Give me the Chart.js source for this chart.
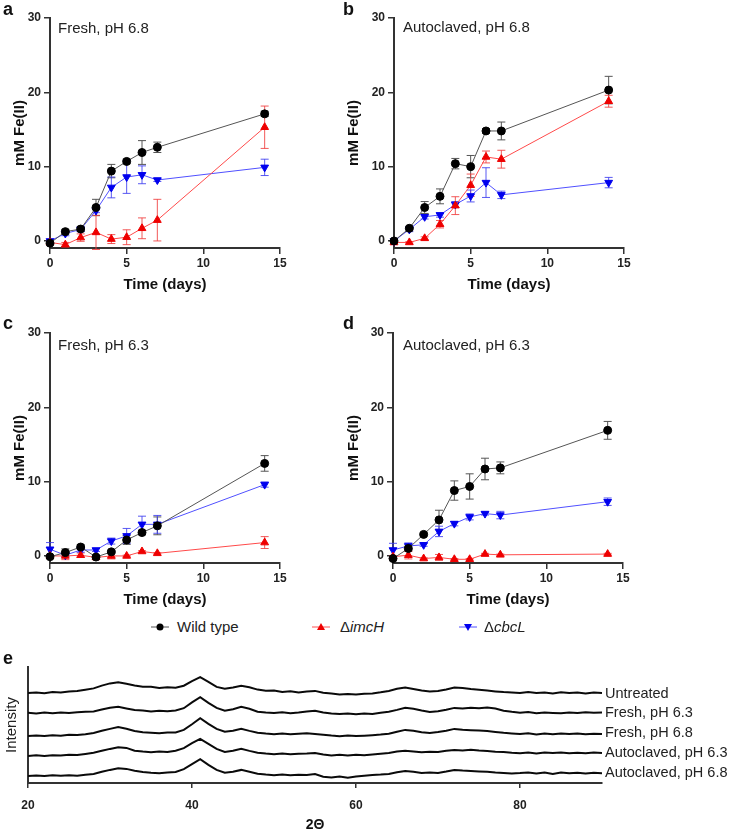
<!DOCTYPE html>
<html lang="en">
<head>
<meta charset="UTF-8">
<title>Fe(II) reduction</title>
<script src="https://cdn.jsdelivr.net/npm/chart.js"></script>
<style>
  body { margin: 0; background: #fff; font-family: "Liberation Sans", Arial, sans-serif; color: #222; }
  #fig { position: relative; width: 730px; height: 835px; overflow: hidden; }
  canvas { position: absolute; }
  .panel { position: absolute; font-weight: bold; font-size: 18px; line-height: 18px; color: #111; }
  .inner { position: absolute; font-size: 15px; line-height: 15px; white-space: nowrap; }
  .legend { position: absolute; top: 619px; font-size: 15px; line-height: 15px; white-space: nowrap; }
  .legend svg { position: absolute; top: 3px; }
  .trace { position: absolute; left: 605px; font-size: 14.5px; line-height: 14px; white-space: nowrap; }
</style>
</head>
<body>
<div id="fig">
  <canvas id="chartA" width="300" height="300" style="left:0;top:0"></canvas>
  <canvas id="chartB" width="300" height="300" style="left:345px;top:0"></canvas>
  <canvas id="chartC" width="300" height="300" style="left:0;top:315px"></canvas>
  <canvas id="chartD" width="300" height="300" style="left:345px;top:315px"></canvas>
  <canvas id="chartE" width="730" height="185" style="left:0;top:650px"></canvas>

  <div class="panel" style="left:3px;top:0">a</div>
  <div class="panel" style="left:343px;top:0">b</div>
  <div class="panel" style="left:3px;top:314px">c</div>
  <div class="panel" style="left:343px;top:314px">d</div>
  <div class="panel" style="left:3px;top:649px">e</div>

  <div class="inner" style="left:58px;top:20px">Fresh, pH 6.8</div>
  <div class="inner" style="left:403px;top:19px">Autoclaved, pH 6.8</div>
  <div class="inner" style="left:58px;top:337px">Fresh, pH 6.3</div>
  <div class="inner" style="left:403px;top:337px">Autoclaved, pH 6.3</div>

  <div class="legend" style="left:150px">
    <svg width="20" height="10"><line x1="1" y1="5" x2="19" y2="5" stroke="#555"/><circle cx="10" cy="5" r="3.5" fill="#000"/></svg>
    <span style="margin-left:27px">Wild type</span>
  </div>
  <div class="legend" style="left:311px">
    <svg width="20" height="10"><line x1="1" y1="5" x2="19" y2="5" stroke="#ff5050"/><polygon points="10,1 14,8 6,8" fill="#ee0000"/></svg>
    <span style="margin-left:29px">Δ<i>imcH</i></span>
  </div>
  <div class="legend" style="left:458px">
    <svg width="20" height="10"><line x1="1" y1="5" x2="19" y2="5" stroke="#5050ff"/><polygon points="6,2 14,2 10,9" fill="#0000ee"/></svg>
    <span style="margin-left:26px">Δ<i>cbcL</i></span>
  </div>

  <div class="trace" style="top:686px">Untreated</div>
  <div class="trace" style="top:705px">Fresh, pH 6.3</div>
  <div class="trace" style="top:725px">Fresh, pH 6.8</div>
  <div class="trace" style="top:745px">Autoclaved, pH 6.3</div>
  <div class="trace" style="top:765px">Autoclaved, pH 6.8</div>
</div>

<script>
  // sampling days
  const days = [0, 1, 2, 3, 4, 5, 6, 7, 14];
  const dayTicks = [0, 5, 10, 15];
  const feTicks = [0, 10, 20, 30];

  // a: fresh, pH 6.8 (mM Fe(II), mean and error)
  const wtFresh68 = [-0.3, 1.25, 1.6, 4.5, 9.4, 10.7, 11.9, 12.6, 17.1];
  const wtFresh68Err = [0.2, 0.3, 0.3, 1.1, 0.9, 0.3, 1.6, 0.7, 0.35];
  const imcFresh68 = [-0.2, -0.5, 0.45, 1.15, 0.25, 0.5, 1.7, 2.8, 15.3];
  const imcFresh68Err = [0.2, 0.3, 0.5, 2.3, 0.6, 1.0, 1.4, 2.8, 2.85];
  const cbcFresh68 = [0, 1.0, 1.55, 4.1, 7.2, 8.6, 8.9, 8.2, 9.9];
  const cbcFresh68Err = [0.1, 0.3, 0.3, 0.3, 1.4, 2.2, 1.2, 0.2, 1.1];

  // b: autoclaved, pH 6.8
  const wtAuto68 = [0, 1.7, 4.5, 6.0, 10.4, 10.0, 14.8, 14.8, 20.3];
  const wtAuto68Err = [0.1, 0.2, 0.8, 1.0, 0.7, 1.5, 0.3, 1.2, 1.85];
  const imcAuto68 = [-0.2, -0.2, 0.35, 2.25, 4.75, 7.5, 11.3, 11.0, 18.8];
  const imcAuto68Err = [0.3, 0.1, 0.2, 0.5, 1.2, 1.5, 0.8, 1.2, 0.8];
  const cbcAuto68 = [0, 1.55, 3.25, 3.5, 4.9, 6.05, 7.85, 6.2, 7.85];
  const cbcAuto68Err = [0.1, 0.3, 0.3, 0.3, 0.4, 0.8, 2.0, 0.5, 0.7];

  // c: fresh, pH 6.3
  const wtFresh63 = [-0.1, 0.45, 1.2, -0.15, 0.55, 2.15, 3.15, 4.05, 12.45];
  const wtFresh63Err = [0.2, 0.5, 0.3, 0.2, 0.2, 0.6, 0.3, 1.2, 1.05];
  const imcFresh63 = [0, 0, 0.1, -0.2, 0, 0, 0.6, 0.35, 1.8];
  const imcFresh63Err = [0.1, 0.5, 0.3, 0.1, 0.4, 0.1, 0.1, 0.1, 0.8];
  const cbcFresh63 = [0.9, 0.1, 0.8, 0.8, 2.0, 2.7, 4.25, 4.25, 9.6];
  const cbcFresh63Err = [0.9, 0.2, 0.3, 0.2, 0.4, 1.0, 1.1, 1.2, 0.35];

  // d: autoclaved, pH 6.3
  const wtAuto63 = [-0.35, 1.0, 2.9, 4.85, 8.8, 9.35, 11.7, 11.85, 16.9];
  const wtAuto63Err = [0.1, 0.3, 0.2, 1.3, 1.3, 1.7, 1.45, 0.8, 1.2];
  const imcAuto63 = [-0.1, 0.1, -0.35, -0.2, -0.45, -0.45, 0.25, 0.15, 0.25];
  const imcAuto63Err = [0.1, 0.5, 0.1, 0.4, 0.1, 0.1, 0.1, 0.1, 0.1];
  const cbcAuto63 = [0.8, 1.35, 1.5, 3.3, 4.35, 5.25, 5.7, 5.5, 7.3];
  const cbcAuto63Err = [0.9, 0.4, 0.2, 0.7, 0.3, 0.4, 0.2, 0.5, 0.5];

  // e: XRD patterns (stacked, arbitrary intensity)
  const twoTheta = [20, 21, 22, 23, 24, 25, 26, 27, 28, 29, 30, 31, 32, 33, 34, 35, 36, 37, 38, 39,
    40, 41, 42, 43, 44, 45, 46, 47, 48, 49, 50, 51, 52, 53, 54, 55, 56, 57, 58, 59,
    60, 61, 62, 63, 64, 65, 66, 67, 68, 69, 70, 71, 72, 73, 74, 75, 76, 77, 78, 79,
    80, 81, 82, 83, 84, 85, 86, 87, 88, 89, 90];
  const twoThetaTicks = [20, 40, 60, 80];
  const xrdUntreated = [90.0, 90.6, 89.8, 90.9, 90.4, 91.6, 91.9, 93.2, 94.6, 97.4, 99.6, 100.8, 99.3, 97.6, 96.3, 96.2, 95.1, 95.7, 95.2, 97.3,
    101.8, 105.9, 101.2, 96.1, 94.3, 95.6, 97.2, 95.8, 93.4, 92.2, 92.6, 90.9, 91.7, 90.4, 91.6, 92.1, 90.2, 89.4, 88.6, 89.1,
    88.4, 89.2, 89.6, 90.7, 92.1, 94.2, 95.6, 94.1, 92.4, 91.6, 92.1, 93.6, 95.4, 95.1, 93.9, 93.2, 92.4, 91.6, 90.9, 90.6,
    89.9, 91.0, 90.1, 90.6, 89.6, 90.7, 89.9, 90.6, 89.5, 90.5, 90.1];
  const xrdFresh63 = [70.2, 69.6, 70.5, 69.8, 70.6, 70.1, 70.8, 71.2, 71.6, 73.4, 75.3, 76.2, 74.6, 73.1, 72.4, 71.6, 72.3, 71.8, 72.6, 74.8,
    80.6, 85.8, 80.2, 75.1, 72.2, 73.8, 76.1, 74.2, 71.3, 70.6, 70.1, 70.7, 69.8, 70.4, 71.6, 72.2, 70.6, 69.4, 68.9, 69.6,
    68.8, 69.5, 69.1, 70.3, 71.2, 73.1, 75.2, 74.3, 72.6, 71.1, 71.8, 73.2, 75.1, 74.6, 75.3, 74.8, 75.6, 74.4, 72.3, 71.2,
    70.3, 70.9, 69.8, 70.6, 70.1, 69.7, 70.5, 69.9, 70.7, 70.2, 70.4];
  const xrdFresh68 = [47.1, 47.6, 46.9, 47.8, 47.3, 48.2, 47.9, 48.8, 50.1, 52.2, 54.1, 55.9, 54.2, 52.1, 50.8, 50.3, 49.7, 50.4, 50.6, 53.1,
    58.8, 64.8, 59.2, 54.1, 51.2, 52.3, 54.2, 52.1, 50.3, 49.4, 48.8, 49.5, 48.7, 49.3, 49.8, 49.1, 48.2, 47.4, 46.8, 47.5,
    46.9, 47.3, 47.8, 48.4, 49.3, 51.2, 53.1, 52.2, 50.8, 50.1, 50.9, 52.2, 54.1, 53.3, 52.8, 52.4, 51.9, 51.1, 50.2, 49.6,
    49.1, 49.7, 48.6, 49.4, 48.8, 49.5, 48.9, 49.6, 48.7, 49.3, 48.9];
  const xrdAuto63 = [27.1, 27.7, 26.9, 27.8, 27.4, 28.3, 27.9, 29.1, 30.3, 32.2, 34.1, 35.8, 35.1, 32.3, 31.4, 30.8, 31.5, 30.9, 32.2, 34.9,
    39.8, 44.1, 39.2, 34.1, 31.1, 32.2, 34.2, 32.1, 30.2, 29.4, 28.8, 29.5, 28.7, 29.3, 29.6, 30.1, 28.4, 27.6, 28.3, 27.5,
    28.2, 27.7, 28.4, 29.2, 30.1, 31.4, 32.2, 31.6, 30.8, 31.3, 31.1, 32.2, 33.1, 32.6, 33.3, 32.4, 32.1, 31.3, 30.9, 30.2,
    29.8, 30.5, 29.6, 30.4, 29.9, 30.6, 29.7, 30.3, 29.8, 30.5, 29.9];
  const xrdAuto68 = [7.1, 7.6, 6.9, 7.7, 7.2, 7.8, 7.3, 8.2, 9.1, 11.2, 13.1, 14.8, 14.1, 12.2, 10.9, 10.2, 9.8, 10.5, 11.1, 13.9,
    18.8, 23.9, 18.2, 13.1, 10.2, 11.3, 13.1, 11.2, 9.3, 8.4, 7.8, 8.5, 7.7, 8.3, 8.1, 9.0, 6.2, 5.4, 6.6, 5.3,
    6.4, 7.2, 7.9, 8.4, 9.1, 10.8, 12.1, 11.2, 10.1, 10.4, 9.9, 11.4, 13.1, 12.4, 12.1, 11.6, 11.2, 10.4, 10.1, 9.6,
    9.9, 10.4, 9.5, 10.6, 8.9, 10.5, 9.7, 10.3, 9.6, 10.2, 9.8];

  Chart.defaults.font.family = '"Liberation Sans", Arial, sans-serif';
  Chart.defaults.color = '#222';

  // vertical error bars with caps, drawn under the lines
  const errorBars = {
    id: 'errorBars',
    beforeDatasetsDraw(chart) {
      const ctx = chart.ctx;
      const ys = chart.scales.y;
      chart.data.datasets.forEach((ds, i) => {
        if (!ds.errors) return;
        const meta = chart.getDatasetMeta(i);
        ctx.save();
        ctx.strokeStyle = ds.errorColor;
        ctx.lineWidth = 1;
        meta.data.forEach((pt, j) => {
          const v = ds.data[j].y;
          const e = ds.errors[j];
          const top = ys.getPixelForValue(v + e);
          const bot = ys.getPixelForValue(v - e);
          ctx.beginPath();
          ctx.moveTo(pt.x, top); ctx.lineTo(pt.x, bot);
          ctx.moveTo(pt.x - 4, top); ctx.lineTo(pt.x + 4, top);
          ctx.moveTo(pt.x - 4, bot); ctx.lineTo(pt.x + 4, bot);
          ctx.stroke();
        });
        ctx.restore();
      });
    }
  };

  function series(ys) {
    return days.map((d, i) => ({ x: d, y: ys[i] }));
  }

  function makePanel(id, wt, wtErr, imc, imcErr, cbc, cbcErr, yAxisWidth, titlePad) {
    new Chart(document.getElementById(id), {
      type: 'line',
      data: {
        datasets: [
          {
            label: 'Wild type', data: series(wt), errors: wtErr, errorColor: '#555',
            borderColor: '#555', borderWidth: 1, pointStyle: 'circle', pointRadius: 4,
            pointBackgroundColor: '#000', pointBorderColor: '#000', clip: false
          },
          {
            label: 'ΔimcH', data: series(imc), errors: imcErr, errorColor: 'rgba(240,60,60,0.85)',
            borderColor: '#ff4a4a', borderWidth: 1, pointStyle: 'triangle', pointRadius: 4.5,
            pointBackgroundColor: '#ee0000', pointBorderColor: '#ee0000', clip: false
          },
          {
            label: 'ΔcbcL', data: series(cbc), errors: cbcErr, errorColor: 'rgba(60,60,240,0.85)',
            borderColor: '#5050ff', borderWidth: 1, pointStyle: 'triangle', pointRotation: 180, pointRadius: 4.5,
            pointBackgroundColor: '#0000ee', pointBorderColor: '#0000ee', clip: false
          }
        ]
      },
      options: {
        responsive: false,
        animation: false,
        layout: { padding: { top: 18, right: 300 - 280 - (yAxisWidth - 50), left: 0, bottom: 0 } },
        plugins: { legend: { display: false }, tooltip: { enabled: false } },
        scales: {
          x: {
            type: 'linear', min: 0, max: 15,
            afterBuildTicks: (s) => { s.ticks = dayTicks.map(v => ({ value: v })); },
            afterFit: (s) => { s.height = 52; },
            grid: { display: true, drawOnChartArea: false, drawTicks: true, tickLength: 6, color: '#333', lineWidth: 1.5 },
            border: { display: true, color: '#333', width: 2 },
            ticks: { font: { size: 12, weight: 'bold' }, color: '#222', padding: 2, maxRotation: 0 },
            title: { display: true, text: 'Time (days)', font: { size: 15, weight: 'bold' }, color: '#111', padding: { top: 4, bottom: 6 } }
          },
          y: {
            min: -0.95, max: 30,
            afterBuildTicks: (s) => { s.ticks = feTicks.map(v => ({ value: v })); },
            afterFit: (s) => { s.width = yAxisWidth; },
            grid: { display: true, drawOnChartArea: false, drawTicks: true, tickLength: 6, color: '#333', lineWidth: 1.5 },
            border: { display: true, color: '#333', width: 2 },
            ticks: { font: { size: 12, weight: 'bold' }, color: '#222', padding: 3 },
            title: { display: true, text: 'mM Fe(II)', font: { size: 15, weight: 'bold' }, color: '#111', padding: { top: titlePad, bottom: 0 } }
          }
        }
      },
      plugins: [errorBars]
    });
  }

  makePanel('chartA', wtFresh68, wtFresh68Err, imcFresh68, imcFresh68Err, cbcFresh68, cbcFresh68Err, 50, 11);
  makePanel('chartB', wtAuto68, wtAuto68Err, imcAuto68, imcAuto68Err, cbcAuto68, cbcAuto68Err, 49, 0);
  makePanel('chartC', wtFresh63, wtFresh63Err, imcFresh63, imcFresh63Err, cbcFresh63, cbcFresh63Err, 50, 11);
  makePanel('chartD', wtAuto63, wtAuto63Err, imcAuto63, imcAuto63Err, cbcAuto63, cbcAuto63Err, 48, 0);

  // e: stacked XRD traces
  const xrdSets = [xrdUntreated, xrdFresh63, xrdFresh68, xrdAuto63, xrdAuto68];
  new Chart(document.getElementById('chartE'), {
    type: 'line',
    data: {
      datasets: xrdSets.map(vals => ({
        data: twoTheta.map((t, i) => ({ x: t, y: vals[i] })),
        borderColor: '#0a0a0a', borderWidth: 2, pointRadius: 0, tension: 0
      }))
    },
    options: {
      responsive: false,
      animation: false,
      layout: { padding: { top: 17, right: 128, left: 0, bottom: 0 } },
      plugins: { legend: { display: false }, tooltip: { enabled: false } },
      scales: {
        x: {
          type: 'linear', min: 20, max: 90,
          afterBuildTicks: (s) => { s.ticks = twoThetaTicks.map(v => ({ value: v })); },
          afterFit: (s) => { s.height = 52; },
          grid: { display: true, drawOnChartArea: false, drawTicks: true, tickLength: 5, color: '#333', lineWidth: 1.5 },
          border: { display: true, color: '#333', width: 2 },
          ticks: { font: { size: 12, weight: 'bold' }, color: '#222', padding: 10, maxRotation: 0 },
          title: { display: true, text: '2Θ', font: { size: 14, weight: 'bold' }, color: '#111', padding: { top: 0, bottom: 1 } }
        },
        y: {
          min: 0, max: 116,
          afterFit: (s) => { s.width = 28; },
          grid: { display: false },
          border: { display: true, color: '#333', width: 2 },
          ticks: { display: false },
          title: { display: true, text: 'Intensity', font: { size: 15 }, color: '#222', padding: { top: 3, bottom: 0 } }
        }
      }
    }
  });
</script>
</body>
</html>
